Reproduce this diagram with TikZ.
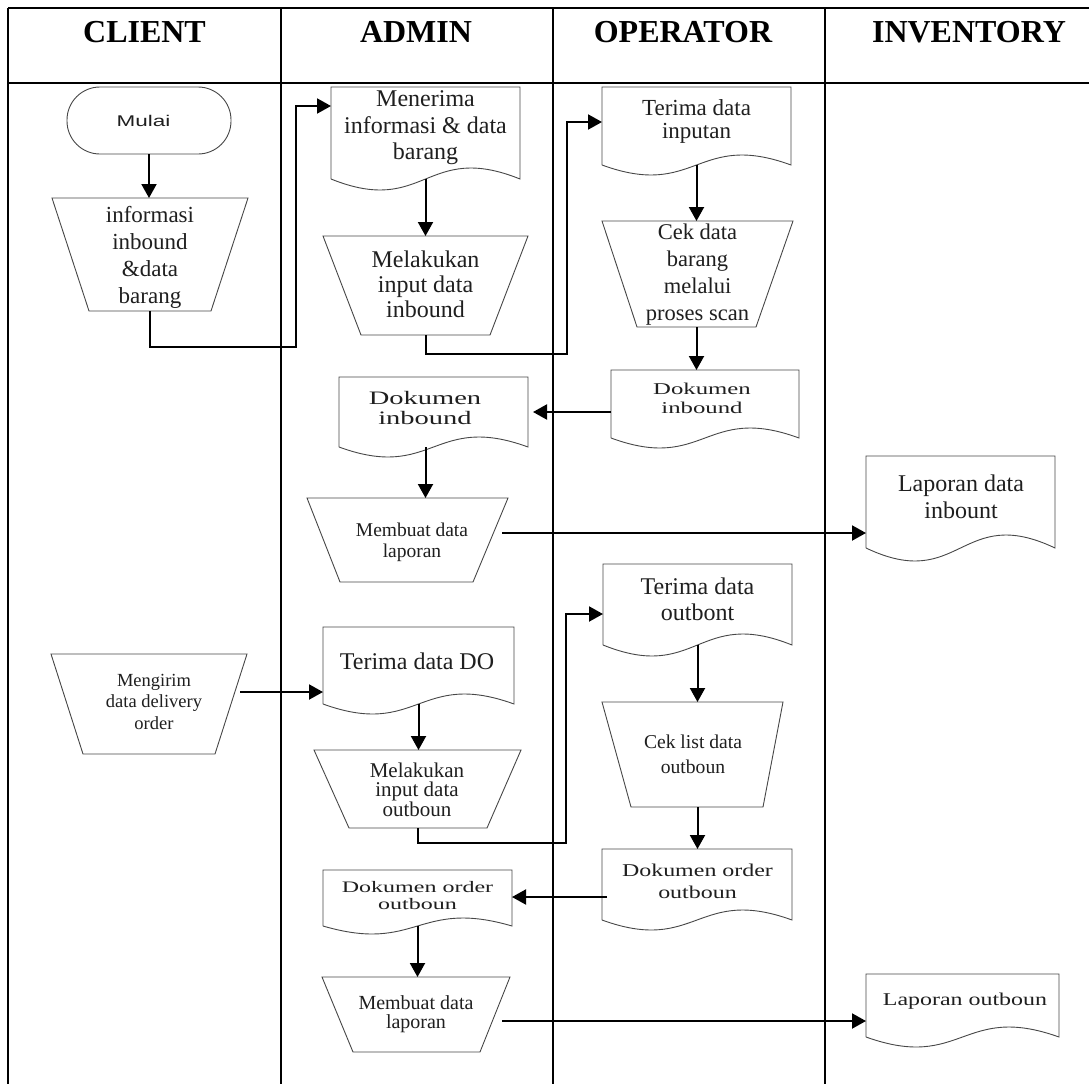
\documentclass[tikz,border=0pt]{standalone}
\usepackage{fontspec}
\setmainfont{Liberation Serif}
\newfontfamily\sansw[FakeStretch=1.45]{Liberation Sans}
\newfontfamily\serwA[FakeStretch=1.5]{Liberation Serif}
\newfontfamily\serwB[FakeStretch=1.33]{Liberation Serif}
\usetikzlibrary{arrows.meta,calc}
\newcommand\fs[2]{\fontsize{#1pt}{#2pt}\selectfont}
\tikzset{
  tbl/.style={line width=1.3pt, draw=black},
  outl/.style={draw=black!72, line width=0.9pt},
  box/.style={rectangle, draw=none, inner sep=0pt, outer sep=0pt},
  txt/.style={align=center, inner sep=0pt, text=black!88},
  hdr/.style={anchor=base, inner sep=0pt, font=\bfseries\fs{32}{38}},
  arr/.style={line width=2pt, draw=black, -{Triangle[length=14pt,width=15pt]}},
}
\newcommand\docnode[6]{%
  \node[box, minimum width={(#4-#2)*1pt}, minimum height={(#5-#3)*1pt}] (#1) at ($(#2,#3)!0.5!(#4,#5)$) {};
  \draw[outl] (#1.south west) -- (#1.north west) -- (#1.north east) -- (#1.south east)
     .. controls ($(#1.south)+(0,-3.46*#6)$) and ($(#1.south)+(0,3.46*#6)$) .. (#1.south west);
}
\newcommand\trapnode[7]{%
  \node[box, minimum width={(#4-#2)*1pt}, minimum height={(#5-#3)*1pt}] (#1) at ($(#2,#3)!0.5!(#4,#5)$) {};
  \draw[outl] (#1.north west) -- (#1.north east) -- ($(#1.south east)+(-#7,0)$) -- ($(#1.south west)+(#6,0)$) -- cycle;
}
\begin{document}
\begin{tikzpicture}[x=1pt,y=-1pt]
\fill[white] (0,0) rectangle (1089,1084);
\useasboundingbox (0,0) rectangle (1089,1084);
% table
\draw[tbl] (8,8) -- (1089,8);
\draw[tbl] (8,83) -- (1089,83);
\foreach \xx in {8,281,553,825} \draw[tbl] (\xx,8) -- (\xx,1084);
\node[hdr] (hclient) at (144.5,42) {CLIENT};
\node[hdr] (hadmin) at (416,42) {ADMIN};
\node[hdr] (hoper) at (683,42) {OPERATOR};
\node[hdr] (hinv) at (969,42) {INVENTORY};
% shapes
\node[outl, rounded corners=33pt, minimum width=164pt, minimum height=67pt, inner sep=0pt] (mulai) at (149,120.5) {};
\node[txt, font=\sansw\fs{15.5}{17}] (mulai-t) at (143.5,121) {Mulai};

\trapnode{info}{52}{198}{248}{311}{37}{37}
\node[txt, font=\fs{23}{27}] (info-t) at (150,257) {informasi\\inbound\\\&data\\barang};

\docnode{men}{331}{87}{520}{179}{11}
\node[txt, font=\fs{24}{26.5}] (men-t) at (425.5,128) {Menerima\\informasi \& data\\barang};

\trapnode{mel1}{323}{236}{528}{335}{38}{38}
\node[txt, font=\fs{24}{25}] (mel1-t) at (425.5,284.5) {Melakukan\\input data\\inbound};

\docnode{ter1}{602}{87}{791}{165}{10}
\node[txt, font=\fs{23}{23}] (ter1-t) at (696.5,121.5) {Terima data\\inputan};

\trapnode{cek1}{602}{221}{793}{327}{35}{37}
\node[txt, font=\fs{22.5}{27}] (cek1-t) at (697.5,274.5) {Cek data\\barang\\melalui\\proses scan};

\docnode{dok1}{611}{370}{799}{438}{10}
\node[txt, font=\serwA\fs{16.5}{19}] (dok1-t) at (702,398) {Dokumen\\inbound};

\docnode{dok2}{339}{377}{528}{447}{10}
\node[txt, font=\serwA\fs{19}{20}] (dok2-t) at (425,408) {Dokumen\\inbound};

\trapnode{mb1}{307}{498}{508}{582}{33}{35}
\node[txt, font=\fs{19.5}{21}] (mb1-t) at (412,542.5) {Membuat data\\laporan};

\docnode{lap1}{866}{456}{1055}{548}{13}
\node[txt, font=\fs{24}{27}] (lap1-t) at (961,496.5) {Laporan data\\inbount};

\trapnode{kirim}{51}{654}{247}{754}{32}{32}
\node[txt, font=\fs{18.5}{21.5}] (kirim-t) at (154,701.5) {Mengirim\\data delivery\\order};

\docnode{tdo}{323}{627}{514}{704}{10}
\node[txt, font=\fs{24}{26}] (tdo-t) at (417,661) {Terima data DO};

\trapnode{mel2}{314}{750}{521}{828}{35}{34}
\node[txt, font=\fs{21}{19.5}] (mel2-t) at (417,789.5) {Melakukan\\input data\\outboun};

\docnode{tout}{603}{564}{792}{645}{11}
\node[txt, font=\fs{24}{26}] (tout-t) at (697.5,599) {Terima data\\outbont};

\trapnode{ckl}{602}{702}{783}{807}{29}{20}
\node[txt, font=\fs{19.6}{25}] (ckl-t) at (693,754.5) {Cek list data\\outboun};

\docnode{dko}{602}{849}{792}{920}{10}
\node[txt, font=\serwB\fs{18}{22}] (dko-t) at (697.5,881) {Dokumen order\\outboun};

\docnode{dka}{323}{870}{512}{926}{8}
\node[txt, font=\serwA\fs{16}{17.5}] (dka-t) at (417.5,895.5) {Dokumen order\\outboun};

\trapnode{mb2}{322}{977}{510}{1052}{31}{30}
\node[txt, font=\fs{20}{18.5}] (mb2-t) at (416,1014) {Membuat data\\laporan};

\docnode{lapo}{866}{974}{1059}{1037}{10}
\node[txt, font=\serwB\fs{18}{22}] (lapo-t) at (965,1001) {Laporan outboun};

% connectors
\draw[arr] (mulai.south) -- (mulai.south |- info.north);
\coordinate (k1) at (296,347);
\draw[arr] (info.south) |- (k1) |- ($(men.north west)+(0,19)$);
\draw[arr] (men.south) -- (mel1.north);
\coordinate (k2) at (567,354);
\draw[arr] (mel1.south) |- (k2) |- ($(ter1.north west)+(0,35)$);
\draw[arr] (ter1.south) -- (ter1.south |- cek1.north);
\draw[arr] (cek1.south -| ter1.south) -- (ter1.south |- dok1.north);
\coordinate (a7) at ($(dok1.north west)+(0,42)$);
\draw[arr] (a7) -- ([xshift=5pt]a7 -| dok2.east);
\draw[arr] (dok2.south -| mel1.south) -- (mel1.south |- mb1.north);
\coordinate (a9) at ($(mb1.north east)+(-6,35)$);
\draw[arr] (a9) -- (a9 -| lap1.west);
\coordinate (a10) at ($(kirim.north east)+(-7,38)$);
\draw[arr] (a10) -- (a10 -| tdo.west);
\draw[arr] (tdo.south) -- (tdo.south |- mel2.north);
\coordinate (k3) at (566,843);
\draw[arr] (mel2.south) |- (k3) |- ($(tout.north west)+(0,50)$);
\draw[arr] (tout.south) -- (tout.south |- ckl.north);
\draw[arr] (ckl.south -| tout.south) -- (tout.south |- dko.north);
\coordinate (a15) at ($(dko.north west)+(5,48)$);
\draw[arr] (a15) -- (a15 -| dka.east);
\draw[arr] (dka.south) -- (dka.south |- mb2.north);
\coordinate (a17) at ($(mb2.north east)+(-8,44)$);
\draw[arr] (a17) -- (a17 -| lapo.west);
\end{tikzpicture}
\end{document}
